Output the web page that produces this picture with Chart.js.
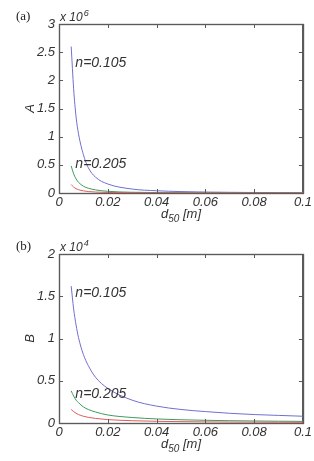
<!DOCTYPE html>
<html>
<head>
<meta charset="utf-8">
<script src="https://cdn.jsdelivr.net/npm/chart.js@4"></script>
<style>
  html, body { margin: 0; padding: 0; background: #fff; }
  body { width: 314px; height: 461px; position: relative; overflow: hidden; }
  canvas { position: absolute; left: 0; }
  #chartA { top: 0; }
  #chartB { top: 230px; }
</style>
</head>
<body>
<canvas id="chartA" width="314" height="230"></canvas>
<canvas id="chartB" width="314" height="231"></canvas>
<script>
// grain size d50 [m]
const d50 = [0.005, 0.006, 0.007, 0.008, 0.010, 0.012, 0.015, 0.020, 0.030, 0.040, 0.050, 0.060, 0.070, 0.080, 0.090, 0.100];

// panel (a): A, in units of 10^6
const aN105 = [2.60, 1.85, 1.35, 1.05, 0.68, 0.45, 0.28, 0.16, 0.070, 0.040, 0.025, 0.017, 0.012, 0.009, 0.007, 0.006];
const aN205 = [0.48, 0.34, 0.25, 0.19, 0.12, 0.085, 0.055, 0.030, 0.013, 0.008, 0.005, 0.0035, 0.0025, 0.002, 0.0015, 0.0012];
const aN3   = [0.15, 0.105, 0.077, 0.059, 0.038, 0.026, 0.017, 0.0095, 0.004, 0.0024, 0.0015, 0.001, 0.0008, 0.0006, 0.0005, 0.0004];

// panel (b): B, in units of 10^4
const bN105 = [1.62, 1.35, 1.16, 1.01, 0.81, 0.68, 0.54, 0.41, 0.27, 0.20, 0.16, 0.135, 0.115, 0.10, 0.09, 0.08];
const bN205 = [0.38, 0.32, 0.27, 0.24, 0.19, 0.16, 0.13, 0.095, 0.065, 0.048, 0.038, 0.032, 0.027, 0.024, 0.021, 0.019];
const bN3   = [0.16, 0.135, 0.115, 0.10, 0.08, 0.067, 0.054, 0.04, 0.027, 0.02, 0.016, 0.013, 0.011, 0.01, 0.009, 0.008];

const xTicks = [0, 0.02, 0.04, 0.06, 0.08, 0.1];
const yTicksA = [0, 0.5, 1, 1.5, 2, 2.5, 3];
const yTicksB = [0, 0.5, 1, 1.5, 2];

// annotation labels [text, x, y] in data units
const labelsA = [['n=0.105', 0.0067, 2.31], ['n=0.205', 0.0067, 0.51]];
const labelsB = [['n=0.105', 0.0067, 1.54], ['n=0.205', 0.0067, 0.34]];

const colors = {
  blue: '#6f6fd0',
  green: '#3f9a5f',
  red: '#e25a5a',
  frame: '#5a5a5a',
  text: '#333333'
};
const tickFont = { family: 'Liberation Sans, Arial, sans-serif', size: 13, style: 'italic' };

function pts(ys) {
  return d50.map((x, i) => ({ x: x, y: ys[i] }));
}

function fmt(v) {
  return String(Number(v.toFixed(3)));
}

// frame + inward ticks (MATLAB style box)
function drawFrame(chart, yTicks) {
  const ctx = chart.ctx;
  const a = chart.chartArea;
  const xs = chart.scales.x, ys = chart.scales.y;
  ctx.save();
  ctx.strokeStyle = colors.frame;
  ctx.lineWidth = 1.2;
  ctx.strokeRect(Math.round(a.left) + 0.5, Math.round(a.top) + 0.5,
    Math.round(a.right - a.left), Math.round(a.bottom - a.top));
  ctx.lineWidth = 1;
  ctx.beginPath();
  xTicks.forEach(t => {
    const px = Math.round(xs.getPixelForValue(t)) + 0.5;
    ctx.moveTo(px, a.bottom); ctx.lineTo(px, a.bottom - 4);
    ctx.moveTo(px, a.top); ctx.lineTo(px, a.top + 4);
  });
  yTicks.forEach(t => {
    const py = Math.round(ys.getPixelForValue(t)) + 0.5;
    ctx.moveTo(a.left, py); ctx.lineTo(a.left + 4, py);
    ctx.moveTo(a.right, py); ctx.lineTo(a.right - 4, py);
  });
  ctx.stroke();
  ctx.restore();
}

function decoPlugin(cfg) {
  return {
    id: 'deco',
    beforeDatasetsDraw(chart) {
      drawFrame(chart, cfg.yTicks);
    },
    afterDraw(chart) {
      const ctx = chart.ctx;
      const a = chart.chartArea;
      const xs = chart.scales.x, ys = chart.scales.y;
      drawFrame(chart, cfg.yTicks);
      ctx.save();

      // panel tag
      ctx.fillStyle = '#222';
      ctx.font = '13px "Liberation Serif", "DejaVu Serif", serif';
      ctx.textBaseline = 'alphabetic';
      ctx.textAlign = 'left';
      ctx.fillText(cfg.tag, 16, 20);

      // exponent
      ctx.fillStyle = colors.text;
      ctx.font = 'italic 12px "Liberation Sans", Arial, sans-serif';
      ctx.fillText('x 10', a.left + 1, a.top - 3);
      const w = ctx.measureText('x 10').width;
      ctx.font = 'italic 9px "Liberation Sans", Arial, sans-serif';
      ctx.fillText(cfg.exp, a.left + 2 + w, a.top - 8);

      // y title
      ctx.font = 'italic 13px "Liberation Sans", Arial, sans-serif';
      ctx.save();
      ctx.translate(30, (a.top + a.bottom) / 2);
      ctx.rotate(-Math.PI / 2);
      ctx.textAlign = 'center';
      ctx.textBaseline = 'middle';
      ctx.fillText(cfg.yTitle, 0, 0);
      ctx.restore();

      // x title d50 [m]
      const cx = (a.left + a.right) / 2;
      const by = a.bottom + 25;
      ctx.font = 'italic 13px "Liberation Sans", Arial, sans-serif';
      const wd = ctx.measureText('d').width;
      ctx.font = 'italic 10px "Liberation Sans", Arial, sans-serif';
      const ws = ctx.measureText('50').width;
      ctx.font = 'italic 13px "Liberation Sans", Arial, sans-serif';
      const wm = ctx.measureText(' [m]').width;
      const x0 = cx - (wd + ws + wm) / 2;
      ctx.textAlign = 'left';
      ctx.fillText('d', x0, by);
      ctx.font = 'italic 10px "Liberation Sans", Arial, sans-serif';
      ctx.fillText('50', x0 + wd, by + 4);
      ctx.font = 'italic 13px "Liberation Sans", Arial, sans-serif';
      ctx.fillText(' [m]', x0 + wd + ws, by);

      // curve labels
      ctx.font = 'italic 14px "Liberation Sans", Arial, sans-serif';
      ctx.textBaseline = 'middle';
      cfg.labels.forEach(l => {
        ctx.fillText(l[0], xs.getPixelForValue(l[1]), ys.getPixelForValue(l[2]));
      });
      ctx.restore();
    }
  };
}

function makeChart(id, series, yMax, yTicks, cfg) {
  const ctx = document.getElementById(id).getContext('2d');
  const frameBorder = { display: true, color: colors.frame, width: 1 };
  return new Chart(ctx, {
    type: 'line',
    data: {
      datasets: [
        { data: pts(series[0]), borderColor: colors.blue, order: 2 },
        { data: pts(series[1]), borderColor: colors.green, order: 1 },
        { data: pts(series[2]), borderColor: colors.red, order: 0 }
      ]
    },
    options: {
      responsive: false,
      devicePixelRatio: 1,
      animation: false,
      parsing: false,
      elements: {
        point: { radius: 0 },
        line: { borderWidth: 1, cubicInterpolationMode: 'monotone', fill: false }
      },
      layout: { padding: { top: 24, right: 8, left: 0, bottom: 0 } },
      plugins: { legend: { display: false }, tooltip: { enabled: false } },
      scales: {
        x: {
          type: 'linear', min: 0, max: 0.1,
          grid: { display: false, drawTicks: false },
          border: frameBorder,
          afterFit: s => { s.height = cfg.xHeight; },
          afterBuildTicks: s => { s.ticks = xTicks.map(v => ({ value: v })); },
          ticks: { color: colors.text, font: tickFont, padding: 2, maxRotation: 0, callback: v => fmt(v) }
        },
        x2: {
          type: 'linear', position: 'top', min: 0, max: 0.1,
          grid: { display: false, drawTicks: false },
          border: frameBorder,
          ticks: { display: false },
          afterFit: s => { s.height = 0; }
        },
        y: {
          type: 'linear', min: 0, max: yMax,
          grid: { display: false, drawTicks: false },
          border: frameBorder,
          afterFit: s => { s.width = 59; },
          afterBuildTicks: s => { s.ticks = yTicks.map(v => ({ value: v })); },
          ticks: { color: colors.text, font: tickFont, padding: 4, callback: v => fmt(v) }
        },
        y2: {
          type: 'linear', position: 'right', min: 0, max: yMax,
          grid: { display: false, drawTicks: false },
          border: frameBorder,
          ticks: { display: false },
          afterFit: s => { s.width = 0; }
        }
      }
    },
    plugins: [decoPlugin(Object.assign({ yTicks: yTicks }, cfg))]
  });
}

makeChart('chartA', [aN105, aN205, aN3], 3, yTicksA,
  { tag: '(a)', exp: '6', yTitle: 'A', labels: labelsA, xHeight: 37 });
makeChart('chartB', [bN105, bN205, bN3], 2, yTicksB,
  { tag: '(b)', exp: '4', yTitle: 'B', labels: labelsB, xHeight: 38 });
</script>
</body>
</html>
